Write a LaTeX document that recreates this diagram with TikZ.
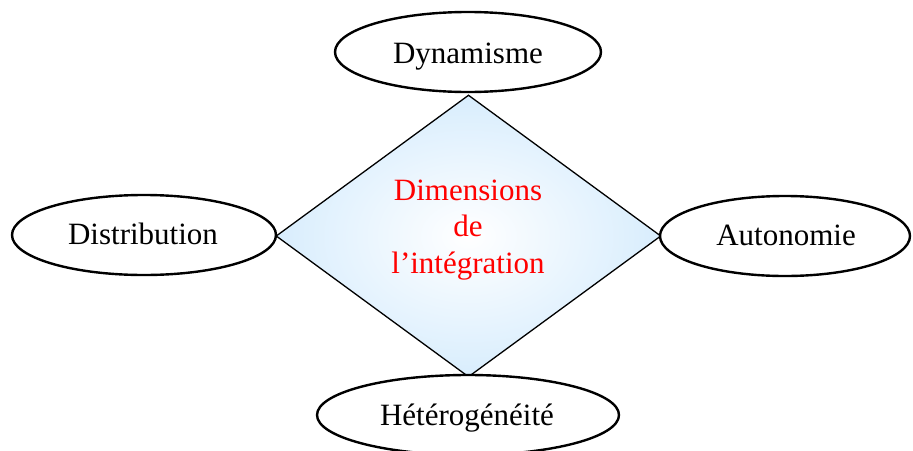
\documentclass[tikz,border=0pt]{standalone}
\usepackage{fontspec}
\setmainfont{Liberation Serif}
\usetikzlibrary{shapes.geometric}
\definecolor{dialight}{RGB}{216,237,253}
\begin{document}
\begin{tikzpicture}[x=1pt,y=-1pt,
  ell/.style={ellipse,draw=black,line width=2.4pt,fill=white,inner sep=0pt},
  lbl/.style={font=\fontsize{31}{36}\selectfont,anchor=base,inner sep=0pt},
  dia/.style={diamond,draw=black,line width=1.3pt,inner sep=0pt,
    shading=radial,inner color=white,outer color=dialight,
    minimum width=385pt,minimum height=282pt},
  ctr/.style={font=\fontsize{31}{36.5}\selectfont,text=red,align=center,inner sep=0pt}]
\useasboundingbox (0,0) rectangle (913,450);
\clip (0,0) rectangle (913,450);
\node[dia] (dim) at (468.5,236) {};
\node[ctr] (dimt) at (468,230) {Dimensions\\de\\l’intégration};
\node[ell,minimum width=266pt,minimum height=80pt] (dyn) at (468,52) {};
\node[lbl] (dynt) at (468,63) {Dynamisme};
\node[ell,minimum width=264pt,minimum height=80pt] (dist) at (144,235) {};
\node[lbl] (distt) at (143,244) {Distribution};
\node[ell,minimum width=250pt,minimum height=80pt] (auto) at (785,236) {};
\node[lbl] (autot) at (786,245) {Autonomie};
\node[ell,minimum width=302pt,minimum height=80pt] (het) at (468,415) {};
\node[lbl] (hett) at (467,425) {Hétérogénéité};
\end{tikzpicture}
\end{document}
